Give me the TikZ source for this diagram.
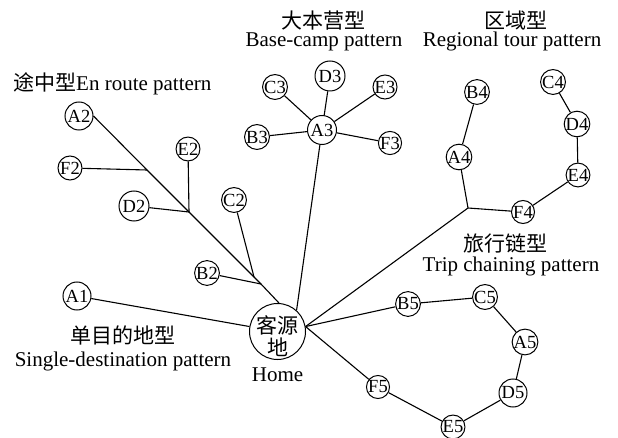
\documentclass[tikz,border=0pt]{standalone}
\usepackage{fontspec}
\setmainfont{Liberation Serif}
\newfontfamily\cjk{Noto Sans CJK SC}
\begin{document}
\begin{tikzpicture}[x=1pt,y=-1pt,
  v/.style={circle,draw,line width=1pt,inner sep=0pt,minimum size=23pt,font=\fontsize{18.5}{18.5}\selectfont},
  e/.style={line width=1.1pt},
  lab/.style={font=\fontsize{21}{21}\selectfont,inner sep=0pt},
  cl/.style={font=\cjk\fontsize{21}{21}\selectfont,inner sep=0pt}]
\useasboundingbox (0,0) rectangle (618,438);
% home
\node[v,minimum size=56pt] (home) at (277.5,331.5) {};
\node[cl] (h1) at (277.5,325) {客源};
\node[cl] (h2) at (277.5,347) {地};
\node[lab,anchor=base] (hl) at (277.5,381) {Home};
% single destination
\node[v,minimum size=28pt] (A1) at (77,296) {A1};
% en route
\node[v,minimum size=28pt] (A2) at (79,116) {A2};
\node[v,minimum size=24pt] (F2) at (70,168) {F2};
\node[v,minimum size=30pt] (D2) at (134,206) {D2};
\node[v] (E2) at (188,149) {E2};
\node[v] (C2) at (234,200) {C2};
\node[v] (B2) at (207,273) {B2};
\coordinate (j1) at (147,170);
\coordinate (j2) at (189,212);
\coordinate (j3) at (254,277);
\coordinate (j4) at (261,284);
% base camp
\node[v,minimum size=29pt] (A3) at (322,130) {A3};
\node[v] (C3) at (275,87) {C3};
\node[v] (B3) at (257,137) {B3};
\node[v,minimum size=30pt] (D3) at (330,76) {D3};
\node[v] (E3) at (385,87) {E3};
\node[v] (F3) at (390,143) {F3};
% regional tour
\node[v] (B4) at (477,92) {B4};
\node[v,minimum size=25pt] (A4) at (459,157) {A4};
\node[v] (F4) at (523,212) {F4};
\node[v] (E4) at (578,175) {E4};
\node[v,minimum size=24pt] (D4) at (577,124) {D4};
\node[v] (C4) at (553,82) {C4};
\coordinate (j5) at (468,208);
% trip chaining
\node[v] (B5) at (408,304) {B5};
\node[v] (C5) at (485,297) {C5};
\node[v,minimum size=24pt] (A5) at (525,342) {A5};
\node[v,minimum size=28pt] (D5) at (513,393) {D5};
\node[v] (E5) at (453,427) {E5};
\node[v] (F5) at (378,387) {F5};
\coordinate (hub) at (home.10);
% edges
\draw[e] (A1) -- (home);
\draw[e] (A2.east) -- (j1) -- (j2) -- (j3) -- (j4) -- (home.87);
\draw[e] (F2) -- (j1);
\draw[e] (D2) -- (j2);
\draw[e] (E2) -- (j2);
\draw[e] (C2) -- (j3);
\draw[e] (B2) -- (j4);
\draw[e] (A3) -- (home.48);
\draw[e] (A3) -- (B3);
\draw[e] (A3) -- (C3);
\draw[e] (A3) -- (D3);
\draw[e] (A3) -- (E3);
\draw[e] (A3) -- (F3);
\draw[e] (B4) -- (A4) -- (j5) -- (F4) -- (E4) -- (D4) -- (C4);
\draw[e] (j5) -- (hub);
\draw[e] (hub) -- (B5) -- (C5) -- (A5) -- (D5) -- (E5) -- (F5) -- (hub);
% labels
\node[cl] (t3c) at (323,20.5) {大本营型};
\node[lab,anchor=base] (t3e) at (324,47) {Base-camp pattern};
\node[cl] (t4c) at (516,20.5) {区域型};
\node[lab,anchor=base] (t4e) at (512,47) {Regional tour pattern};
\node[lab,anchor=base west] (t2) at (13,91) {{\cjk 途中型}En route pattern};
\node[cl] (t1c) at (123,335) {单目的地型};
\node[lab,anchor=base] (t1e) at (123,366) {Single-destination pattern};
\node[cl] (t5c) at (505,243.5) {旅行链型};
\node[lab,anchor=base] (t5e) at (511,272) {Trip chaining pattern};
\end{tikzpicture}
\end{document}
